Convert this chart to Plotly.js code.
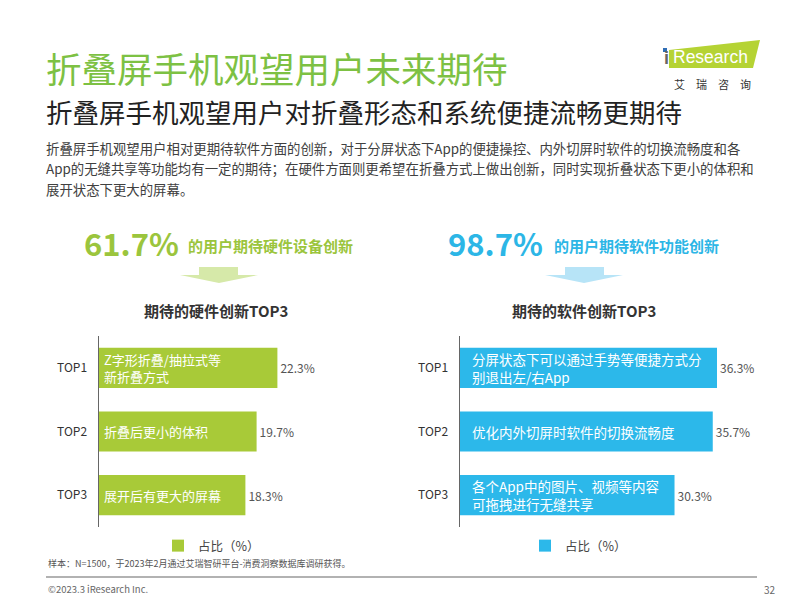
<!DOCTYPE html>
<html>
<head>
<meta charset="utf-8">
<script src="https://cdn.plot.ly/plotly-3.0.1.min.js"></script>
<style>html,body{margin:0;padding:0;background:#fff;}#chart{width:800px;height:600px;}</style>
</head>
<body>
<div id="chart"></div>
<script>
// ---- data ----
const ranks = ['TOP1', 'TOP2', 'TOP3'];
const hwValues = [22.3, 19.7, 18.3];
const hwItems = ['Z字形折叠/抽拉式等<br>新折叠方式', '折叠后更小的体积', '展开后有更大的屏幕'];
const swValues = [36.3, 35.7, 30.3];
const swItems = ['分屏状态下可以通过手势等便捷方式分<br>别退出左/右App', '优化内外切屏时软件的切换流畅度', '各个App中的图片、视频等内容<br>可拖拽进行无缝共享'];
const seriesName = '占比（%）';
const hwShare = '61.7%';
const swShare = '98.7%';
const bodyLines = [
  '折叠屏手机观望用户相对更期待软件方面的创新，对于分屏状态下App的便捷操控、内外切屏时软件的切换流畅度和各',
  'App的无缝共享等功能均有一定的期待；在硬件方面则更希望在折叠方式上做出创新，同时实现折叠状态下更小的体积和',
  '展开状态下更大的屏幕。'
];

// ---- helpers ----
const W = 800, H = 600;
const px = x => x / W;
const py = y => 1 - y / H;
const FONT = '"Noto Sans CJK SC", "Noto Sans", sans-serif';
const GREEN = '#A8CA38';
const BLUE = '#2CB8EA';
const TITLE_GREEN = '#7DC143';

function txt(x, y, text, size, color, opts) {
  return Object.assign({
    xref: 'paper', yref: 'paper', x: px(x), y: py(y), text: text,
    showarrow: false, xanchor: 'left', yanchor: 'middle', align: 'left',
    font: {family: FONT, size: size, color: color}
  }, opts || {});
}

const traces = [
  {
    type: 'bar', orientation: 'h', x: hwValues, y: ranks, name: seriesName,
    xaxis: 'x', yaxis: 'y', marker: {color: GREEN}, width: 0.63,
    text: hwValues.map(v => v.toFixed(1) + '%'), textposition: 'outside',
    textfont: {family: FONT, size: 12, color: '#555'}, cliponaxis: false,
    legend: 'legend', hoverinfo: 'none'
  },
  {
    type: 'bar', orientation: 'h', x: swValues, y: ranks, name: seriesName,
    xaxis: 'x2', yaxis: 'y2', marker: {color: BLUE}, width: 0.63,
    text: swValues.map(v => v.toFixed(1) + '%'), textposition: 'outside',
    textfont: {family: FONT, size: 12, color: '#555'}, cliponaxis: false,
    legend: 'legend2', hoverinfo: 'none'
  }
];

const yDomain = [py(527), py(336)];
const xCommon = {showgrid: false, zeroline: false, showticklabels: false, showline: false, ticks: '', fixedrange: true};
const yCommon = {
  type: 'category', categoryorder: 'array', categoryarray: ranks, autorange: 'reversed',
  showline: true, linecolor: '#666', linewidth: 1.5, ticks: '', showgrid: false, zeroline: false,
  tickfont: {family: FONT, size: 12, color: '#333'}, ticklabelstandoff: 8, domain: yDomain
};

const annotations = [];
// inside bar labels
hwItems.forEach((t, i) => annotations.push({
  xref: 'x', yref: 'y', x: 0, y: ranks[i], text: t, showarrow: false,
  xanchor: 'left', yanchor: 'middle', align: 'left', xshift: 3,
  font: {family: FONT, size: 13, color: '#fff'}
}));
swItems.forEach((t, i) => annotations.push({
  xref: 'x2', yref: 'y2', x: 0, y: ranks[i], text: t, showarrow: false,
  xanchor: 'left', yanchor: 'middle', align: 'left', xshift: 10,
  font: {family: FONT, size: 13.5, color: '#fff'}
}));

// titles and texts
annotations.push(txt(44, 68, '折叠屏手机观望用户未来期待', 35.5, TITLE_GREEN));
annotations.push(txt(44, 112, '折叠屏手机观望用户对折叠形态和系统便捷流畅更期待', 26.5, '#222'));
bodyLines.forEach((l, i) => annotations.push(txt(44, 148 + i * 20.5, l, 13.4, '#404040')));

annotations.push(txt(82, 242, '<b>' + hwShare + '</b>', 31, '#9BC53D'));
annotations.push(txt(186, 246, '<b>的用户期待硬件设备创新</b>', 15, '#9BC53D'));
annotations.push(txt(216, 310, '<b>期待的硬件创新TOP3</b>', 15, '#333', {xanchor: 'center'}));

annotations.push(txt(446, 242, '<b>' + swShare + '</b>', 31, '#2CB6E6'));
annotations.push(txt(552, 246, '<b>的用户期待软件功能创新</b>', 15, '#2CB6E6'));
annotations.push(txt(584, 310, '<b>期待的软件创新TOP3</b>', 15, '#333', {xanchor: 'center'}));

// footer
annotations.push(txt(46, 563, '样本：N=1500，于2023年2月通过艾瑞智研平台-消费洞察数据库调研获得。', 9, '#555'));
annotations.push(txt(46, 589, '©2023.3 iResearch Inc.', 9.5, '#666'));
annotations.push(txt(778, 589, '32', 10, '#666', {xanchor: 'right'}));

// logo text
annotations.push(txt(662, 58, '<b>i</b>', 18, '#666', {font: {family: '"Liberation Sans", sans-serif', size: 18, color: '#666'}}));
annotations.push(txt(671, 57, 'Research', 17.5, '#fff', {font: {family: '"Liberation Sans", sans-serif', size: 17.5, color: '#fff'}}));
annotations.push(txt(712, 84, '艾　瑞　咨　询', 11, '#333', {xanchor: 'center'}));

function path(pts) {
  return 'M' + pts.map(p => px(p[0]) + ',' + py(p[1])).join(' L') + ' Z';
}

const shapes = [
  // arrows
  {type: 'path', xref: 'paper', yref: 'paper', line: {width: 0}, fillcolor: '#D6E9A9',
   path: path([[199, 267], [238, 267], [238, 275], [258, 275], [219, 283], [180, 275], [199, 275]])},
  {type: 'path', xref: 'paper', yref: 'paper', line: {width: 0}, fillcolor: '#B7E4F7',
   path: path([[565, 267], [604, 267], [604, 275], [623, 275], [584, 283], [545, 275], [565, 275]])},
  // footer rule
  {type: 'line', xref: 'paper', yref: 'paper', x0: px(46), x1: px(757), y0: py(577), y1: py(577),
   line: {color: '#999', width: 1.5}},
  // logo
  {type: 'path', xref: 'paper', yref: 'paper', line: {width: 0}, fillcolor: '#B5D334',
   path: path([[669, 50], [760, 40], [753, 68], [669, 68]])},
  {type: 'rect', xref: 'paper', yref: 'paper', x0: px(663), x1: px(667), y0: py(52), y1: py(48),
   line: {width: 0}, fillcolor: '#2F6DB5'}
];

const layout = {
  width: W, height: H,
  margin: {l: 0, r: 0, t: 0, b: 0},
  paper_bgcolor: '#fff', plot_bgcolor: 'rgba(0,0,0,0)',
  showlegend: true,
  xaxis: Object.assign({}, xCommon, {domain: [px(99), px(99 + 8 * 30)], range: [0, 30], anchor: 'y'}),
  yaxis: Object.assign({}, yCommon, {anchor: 'x'}),
  xaxis2: Object.assign({}, xCommon, {domain: [px(460), px(460 + 7.08 * 40)], range: [0, 40], anchor: 'y2'}),
  yaxis2: Object.assign({}, yCommon, {anchor: 'x2'}),
  legend: {x: px(158), y: py(531), xanchor: 'left', yanchor: 'top', orientation: 'h',
           font: {family: FONT, size: 12.5, color: '#444'}, bgcolor: 'rgba(0,0,0,0)'},
  legend2: {x: px(525), y: py(531), xanchor: 'left', yanchor: 'top', orientation: 'h',
            font: {family: FONT, size: 12.5, color: '#444'}, bgcolor: 'rgba(0,0,0,0)'},
  annotations: annotations,
  shapes: shapes,
  bargap: 0.37
};

Plotly.newPlot('chart', traces, layout, {staticPlot: true, displayModeBar: false});
</script>
</body>
</html>
